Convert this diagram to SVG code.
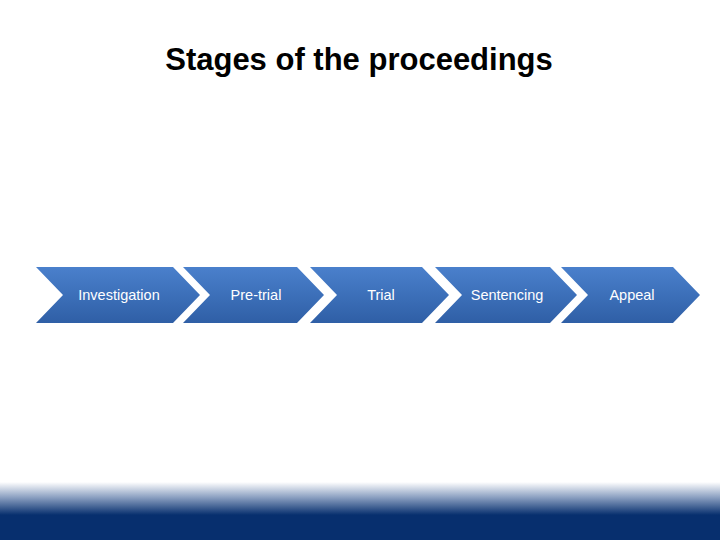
<svg xmlns="http://www.w3.org/2000/svg" width="720" height="540" viewBox="0 0 720 540">
<defs>
<linearGradient id="chev" x1="0" y1="0" x2="0" y2="1">
<stop offset="0" stop-color="#4a80cc"/>
<stop offset="1" stop-color="#2f5fa6"/>
</linearGradient>
<linearGradient id="band" gradientUnits="userSpaceOnUse" x1="0" y1="482" x2="0" y2="515">
<stop offset="0" stop-color="#ffffff"/>
<stop offset="0.45" stop-color="#8fa3c3"/>
<stop offset="1" stop-color="#072f6e"/>
</linearGradient>
<style>
.chev{fill:url(#chev);}
.lbl{font-family:"Liberation Sans",Arial,sans-serif;font-size:14.5px;fill:#ffffff;text-anchor:middle;}
.title{font-family:"Liberation Sans",Arial,sans-serif;font-size:31px;font-weight:bold;fill:#000000;text-anchor:middle;}
</style>
</defs>
<rect width="720" height="540" fill="#ffffff"/>
<rect x="0" y="480" width="720" height="60" fill="url(#band)"/>
<text class="title" x="359" y="70">Stages of the proceedings</text>
<g id="connectors"></g>
<g id="investigation">
<polygon class="chev" points="36,267 173,267 200,295 173,323 36,323 63,295"/>
<text class="lbl" x="119" y="300">Investigation</text>
</g>
<g id="pretrial">
<polygon class="chev" points="183,267 297,267 324,295 297,323 183,323 210,295"/>
<text class="lbl" x="256" y="300">Pre-trial</text>
</g>
<g id="trial">
<polygon class="chev" points="310,267 422,267 449,295 422,323 310,323 337,295"/>
<text class="lbl" x="381" y="300">Trial</text>
</g>
<g id="sentencing">
<polygon class="chev" points="435,267 550,267 577,295 550,323 435,323 462,295"/>
<text class="lbl" x="507" y="300">Sentencing</text>
</g>
<g id="appeal">
<polygon class="chev" points="561,267 673,267 700,295 673,323 561,323 588,295"/>
<text class="lbl" x="632" y="300">Appeal</text>
</g>
</svg>
